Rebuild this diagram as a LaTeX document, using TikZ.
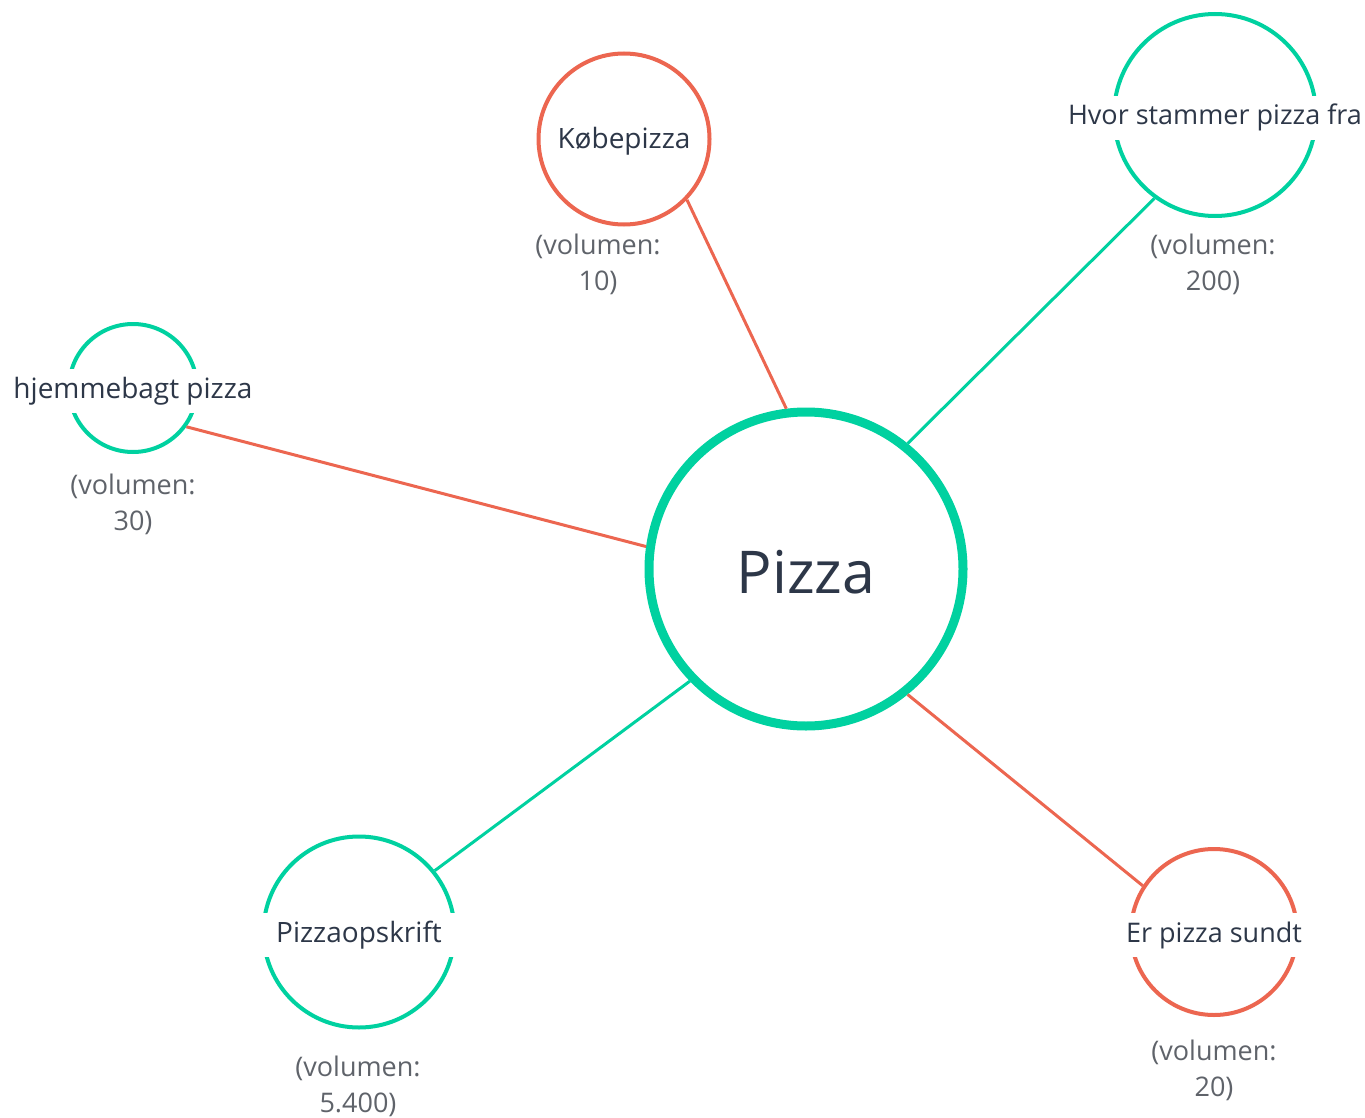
\documentclass[tikz,border=0pt]{standalone}
\usepackage{fontspec}
\setmainfont{Open Sans}
\definecolor{teal}{RGB}{0,209,160}
\definecolor{coral}{RGB}{236,102,80}
\definecolor{ink}{RGB}{45,55,72}
\definecolor{muted}{RGB}{95,99,106}
\begin{document}
\begin{tikzpicture}[x=1pt,y=-1pt,
  bubble/.style={circle,draw,fill=white,inner sep=0pt},
  lbl/.style={font=\fontsize{28}{36}\selectfont,text=ink,fill=white,inner xsep=12pt,inner ysep=9pt,text height=20pt,text depth=6pt,yshift=-3pt},
  small/.style={font=\fontsize{27}{36}\selectfont},
  vol/.style={font=\fontsize{27}{36}\selectfont,text=muted,align=center,inner sep=0pt},
  edge/.style={line width=3pt}]
\useasboundingbox (0,0) rectangle (1365,1118);
% circles
\node[bubble,draw=teal,line width=9pt,minimum size=314pt] (P) at (806,569) {};
\node[bubble,draw=coral,line width=4pt,minimum size=171pt] (K) at (624,139) {};
\node[bubble,draw=teal,line width=4pt,minimum size=202pt] (H) at (1215,115) {};
\node[bubble,draw=teal,line width=4pt,minimum size=128pt] (J) at (133,388) {};
\node[bubble,draw=teal,line width=4pt,minimum size=191pt] (O) at (359,932) {};
\node[bubble,draw=coral,line width=4pt,minimum size=166pt] (E) at (1214,932) {};
% edges
\draw[edge,coral] (P.97) -- (K.-44);
\draw[edge,teal] (P.51) -- (H.-126);
\draw[edge,coral] (P.172.6) -- (J.-36);
\draw[edge,teal] (P.224.7) -- (O.39);
\draw[edge,coral] (P.-51) -- (E.147);
% labels
\node[font=\fontsize{59}{60}\selectfont,text=ink] (Pt) at (806,572) {Pizza};
\node[lbl,inner xsep=10pt] (Kt) at (624,139) {Købepizza};
\node[lbl,small] (Ht) at (1215,115) {Hvor stammer pizza fra};
\node[lbl] (Jt) at (133,388) {hjemmebagt pizza};
\node[lbl,inner xsep=16pt] (Ot) at (359,932) {Pizzaopskrift};
\node[lbl,small] (Et) at (1214,932) {Er pizza sundt};
% volumes
\node[vol] (Kv) at (598,264) {(volumen:\\10)};
\node[vol] (Hv) at (1213,264) {(volumen:\\200)};
\node[vol] (Jv) at (133,504) {(volumen:\\30)};
\node[vol] (Ov) at (358,1086) {(volumen:\\5.400)};
\node[vol] (Ev) at (1214,1070) {(volumen:\\20)};
\end{tikzpicture}
\end{document}
